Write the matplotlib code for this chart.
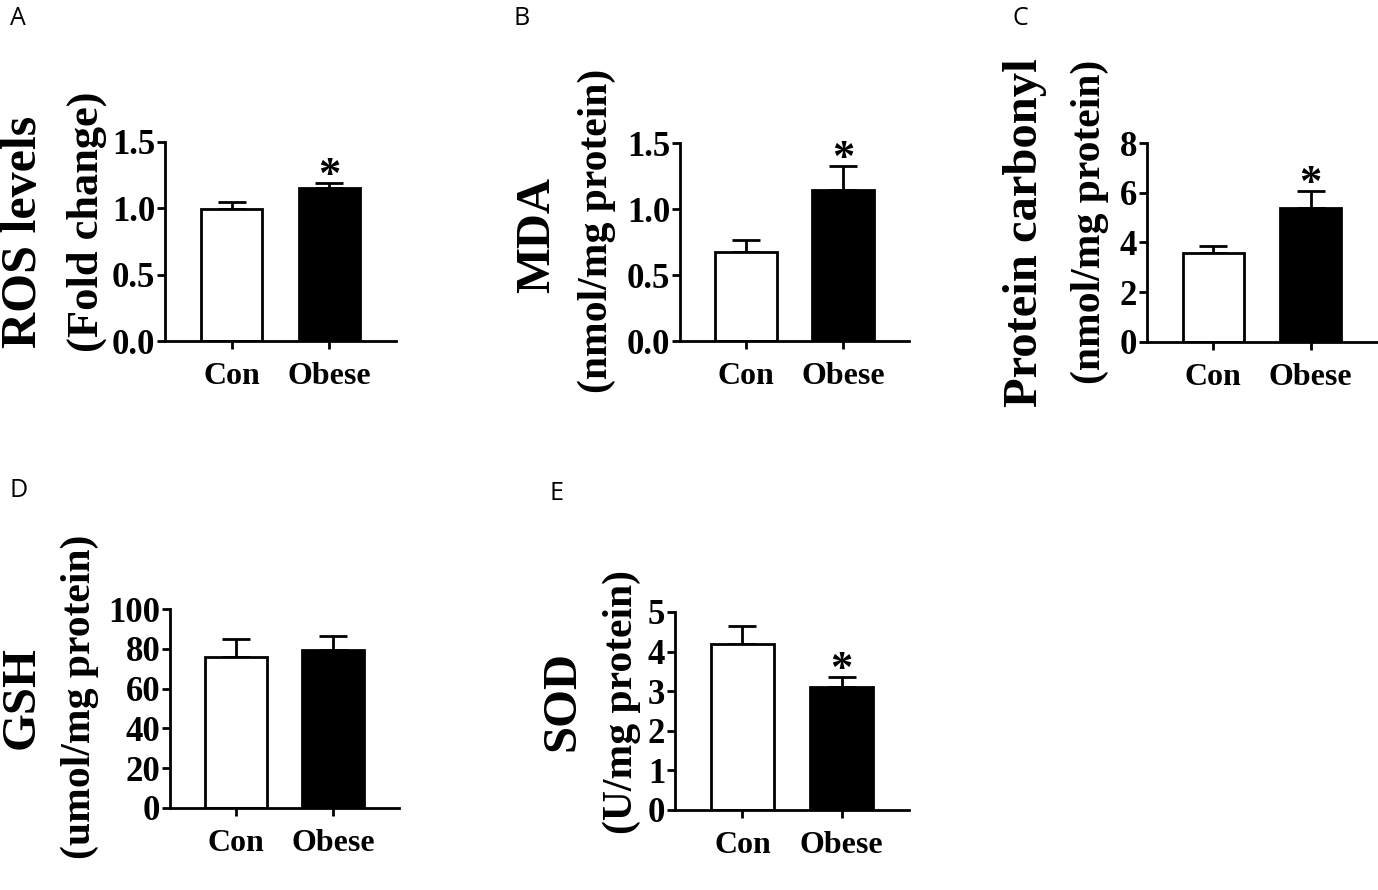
import matplotlib
matplotlib.use("Agg")
import matplotlib.pyplot as plt

W, H = 1378, 890

groups = ["Con", "Obese"]

ros_mean = [0.995, 1.153]
ros_err = [0.053, 0.037]

mda_mean = [0.674, 1.144]
mda_err = [0.091, 0.182]

carb_mean = [3.58, 5.39]
carb_err = [0.28, 0.68]

gsh_mean = [75.9, 79.4]
gsh_err = [9.0, 7.0]

sod_mean = [4.19, 3.11]
sod_err = [0.46, 0.25]

stars = {
    "A": [False, True],
    "B": [False, True],
    "C": [False, True],
    "D": [False, False],
    "E": [False, True],
}

serif = "Liberation Serif"


def px_axes(left, right, top, bottom):
    return fig.add_axes([left / W, 1 - bottom / H, (right - left) / W, (bottom - top) / H])


def bar_panel(ax, means, errs, ymax, step, fmt, star_flags):
    x = [0, 1]
    ax.errorbar(x, means, yerr=[[0, 0], errs], fmt="none", ecolor="black",
                elinewidth=2, capsize=10, capthick=2, zorder=1)
    ax.bar(x, means, width=0.63, color=["white", "black"], edgecolor="black",
           linewidth=2, zorder=2)
    ax.set_xlim(-0.68, 1.68)
    ax.set_ylim(0, ymax)
    ticks = [i * step for i in range(int(round(ymax / step)) + 1)]
    ax.set_yticks(ticks)
    ax.set_yticklabels([fmt.format(t) for t in ticks], fontfamily=serif,
                       fontweight="bold", fontsize=25)
    ax.set_xticks(x)
    ax.set_xticklabels(groups, fontfamily=serif, fontweight="bold", fontsize=23)
    for s in ["top", "right"]:
        ax.spines[s].set_visible(False)
    for s in ["left", "bottom"]:
        ax.spines[s].set_linewidth(2)
    ax.tick_params(axis="y", length=6, width=2, pad=1)
    ax.tick_params(axis="x", length=6, width=2, pad=9)
    for i in x:
        if star_flags[i]:
            ax.annotate("*", xy=(i, means[i] + errs[i]), xytext=(0, -3),
                        textcoords="offset points", ha="center", va="baseline",
                        fontfamily=serif, fontweight="bold", fontsize=32)


fig = plt.figure(figsize=(W / 100, H / 100), dpi=100)

axA = px_axes(165, 396, 142, 341)
bar_panel(axA, ros_mean, ros_err, 1.5, 0.5, "{:.1f}", stars["A"])
axB = px_axes(680, 909, 143, 341)
bar_panel(axB, mda_mean, mda_err, 1.5, 0.5, "{:.1f}", stars["B"])
axC = px_axes(1147, 1377, 143, 342)
bar_panel(axC, carb_mean, carb_err, 8, 2, "{:.0f}", stars["C"])
axD = px_axes(170, 399, 609, 808)
bar_panel(axD, gsh_mean, gsh_err, 100, 20, "{:.0f}", stars["D"])
axE = px_axes(675, 909, 612, 810)
bar_panel(axE, sod_mean, sod_err, 5, 1, "{:.0f}", stars["E"])


def ylab(x, y, s, size):
    fig.text(x / W, 1 - y / H, s, rotation=90, ha="center", va="center",
             fontfamily=serif, fontweight="bold", fontsize=size)


ylab(24, 232, "ROS levels", 36)
ylab(87, 222, "(Fold change)", 32)
ylab(537, 235, "MDA", 35)
ylab(597, 231, "(nmol/mg protein)", 30)
ylab(1025, 233, "Protein carbonyl", 35)
ylab(1090, 222, "(nmol/mg protein)", 30)
ylab(22, 698, "GSH", 35)
ylab(80, 697, "(umol/mg protein)", 30)
ylab(562, 701, "SOD", 35)
ylab(622, 702, "(U/mg protein)", 30)

for letter, lx, ly in [("A", 10, 6), ("B", 513, 6), ("C", 1013, 6),
                       ("D", 10, 478), ("E", 550, 481)]:
    fig.text(lx / W, 1 - ly / H, letter, ha="left", va="top",
             fontfamily="Open Sans", fontsize=18)

fig.savefig("out.png", dpi=100)
